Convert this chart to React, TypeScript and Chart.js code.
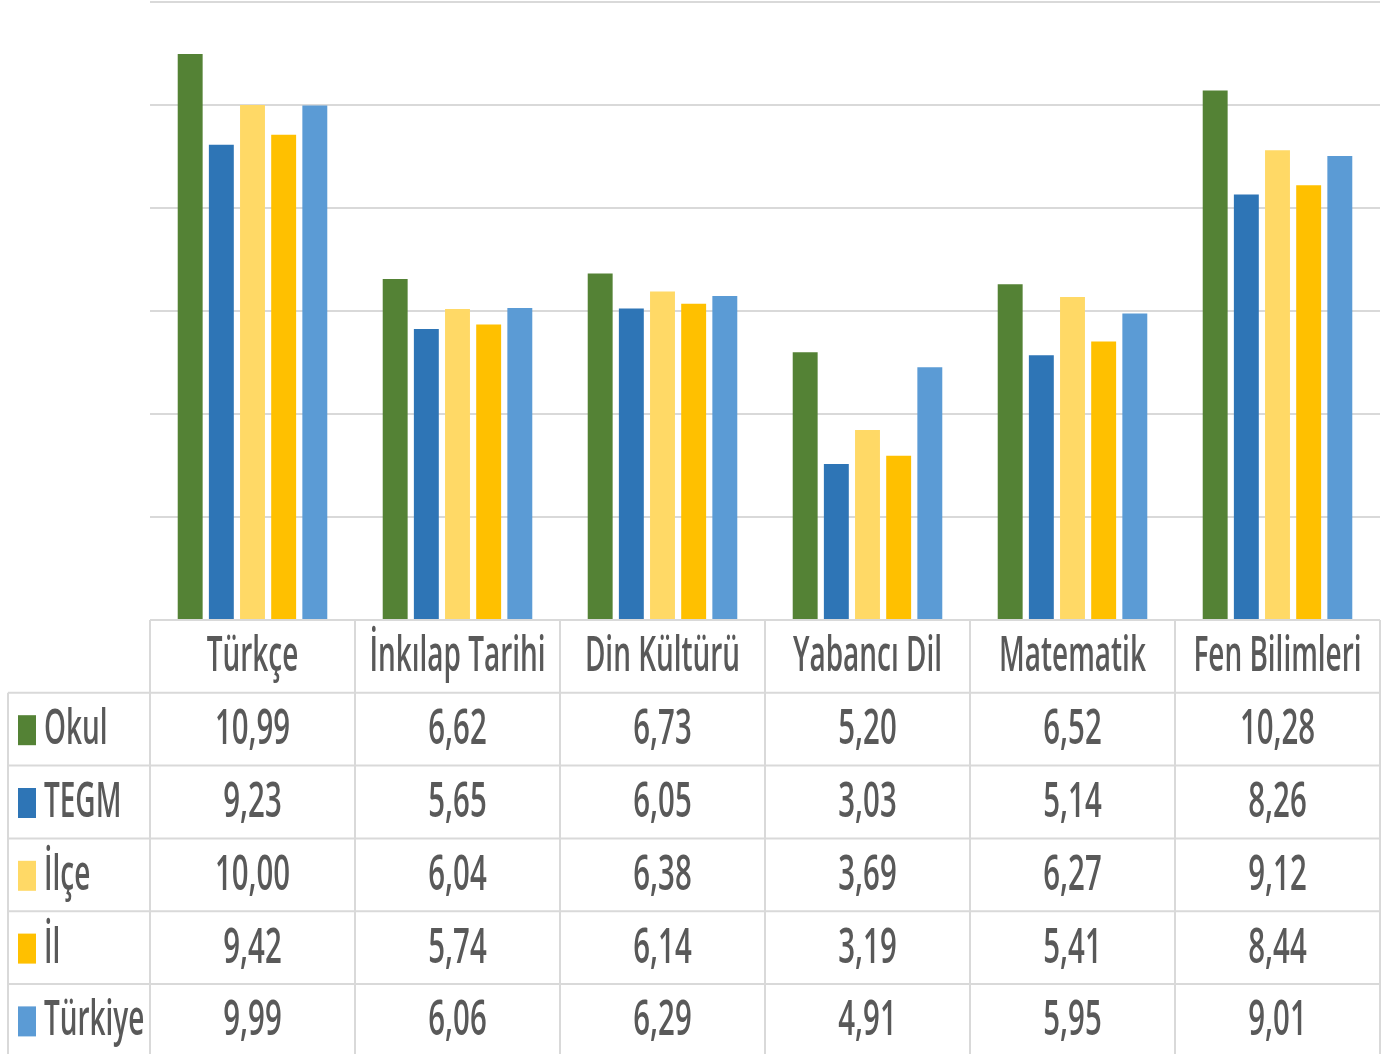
import React, { useEffect, useRef } from "react";
import { Chart, registerables } from "chart.js";

Chart.register(...registerables);

const categories = ["Türkçe", "İnkılap Tarihi", "Din Kültürü", "Yabancı Dil", "Matematik", "Fen Bilimleri"];
const seriesNames = ["Okul", "TEGM", "İlçe", "İl", "Türkiye"];
const okul = [10.99, 6.62, 6.73, 5.2, 6.52, 10.28];
const tegm = [9.23, 5.65, 6.05, 3.03, 5.14, 8.26];
const ilce = [10.0, 6.04, 6.38, 3.69, 6.27, 9.12];
const il = [9.42, 5.74, 6.14, 3.19, 5.41, 8.44];
const turkiye = [9.99, 6.06, 6.29, 4.91, 5.95, 9.01];
const seriesValues = [okul, tegm, ilce, il, turkiye];
const colors = ["#548235", "#2E75B6", "#FFD966", "#FFC000", "#5B9BD5"];
const yMin = 0;
const yMax = 12;
const yStep = 2;

const TEXT_COLOR = "#595959";
const LINE_COLOR = "#d9d9d9";
const FONT = "600 49px 'Open Sans'";
const SX_NUM = 0.6;
const SX_TEXT = 0.57;

function fmt(v: number) {
  return v.toFixed(2).replace(".", ",");
}

function drawText(ctx: CanvasRenderingContext2D, text: string, x: number, y: number, align: CanvasTextAlign, sx: number) {
  ctx.save();
  ctx.translate(x, y);
  ctx.scale(sx, 1);
  ctx.font = FONT;
  ctx.fillStyle = TEXT_COLOR;
  ctx.textAlign = align;
  ctx.textBaseline = "middle";
  ctx.fillText(text, 0, 0);
  ctx.restore();
}

const tablePlugin = {
  id: "dataTable",
  afterDraw(chart: any) {
    const { ctx, chartArea } = chart;
    const xs = chart.scales.x;
    const n = categories.length;
    const cw = (chartArea.right - chartArea.left) / n;
    const top = chartArea.bottom;
    const rowH = 72.8;
    const legendLeft = 8;
    const bottom = top + rowH * (seriesNames.length + 1);
    ctx.save();
    ctx.strokeStyle = LINE_COLOR;
    ctx.lineWidth = 2;
    const line = (x1: number, y1: number, x2: number, y2: number) => {
      ctx.beginPath();
      ctx.moveTo(x1, y1);
      ctx.lineTo(x2, y2);
      ctx.stroke();
    };
    line(chartArea.left, top, chartArea.right, top);
    for (let r = 1; r <= seriesNames.length; r++) {
      const y = top + rowH * r;
      line(legendLeft, y, chartArea.right, y);
    }
    line(legendLeft, bottom, chartArea.right, bottom);
    for (let i = 0; i <= n; i++) {
      const x = chartArea.left + cw * i;
      line(x, top, x, bottom);
    }
    line(legendLeft, top + rowH, legendLeft, bottom);

    for (let i = 0; i < n; i++) {
      const cx = xs.getPixelForValue(i);
      drawText(ctx, categories[i], cx, top + rowH / 2 + 1, "center", SX_TEXT);
    }
    for (let s = 0; s < seriesNames.length; s++) {
      const cy = top + rowH * (s + 1) + rowH / 2 + 1;
      ctx.fillStyle = colors[s];
      ctx.fillRect(18, cy - 15, 18, 30);
      drawText(ctx, seriesNames[s], 44, cy, "left", SX_TEXT);
      for (let i = 0; i < n; i++) {
        const cx = xs.getPixelForValue(i);
        drawText(ctx, fmt(seriesValues[s][i]), cx, cy, "center", SX_NUM);
      }
    }
    ctx.restore();
  },
};

export default function App() {
  const ref = useRef<HTMLCanvasElement | null>(null);
  useEffect(() => {
    document.body.style.margin = "0";
    if (!ref.current) return;
    const chart = new Chart(ref.current, {
      type: "bar",
      data: {
        labels: categories,
        datasets: seriesNames.map((name, i) => ({
          label: name,
          data: seriesValues[i],
          backgroundColor: colors[i],
          borderWidth: 0,
          categoryPercentage: 0.76,
          barPercentage: 0.8,
        })),
      },
      options: {
        responsive: false,
        animation: false,
        devicePixelRatio: 1,
        layout: { padding: { left: 150, right: 15, top: 2, bottom: 434 } },
        plugins: { legend: { display: false }, tooltip: { enabled: false } },
        scales: {
          x: { display: false },
          y: {
            min: yMin,
            max: yMax,
            ticks: { display: false, stepSize: yStep },
            border: { display: false },
            grid: { color: LINE_COLOR, lineWidth: 2, drawTicks: false },
            afterFit: (scale: any) => {
              scale.width = 0;
            },
          },
        },
      },
      plugins: [tablePlugin],
    });
    return () => chart.destroy();
  }, []);
  return (
    <div style={{ position: "absolute", left: 0, top: 0, width: 1395, height: 1054 }}>
      <canvas ref={ref} width={1395} height={1054} />
    </div>
  );
}
